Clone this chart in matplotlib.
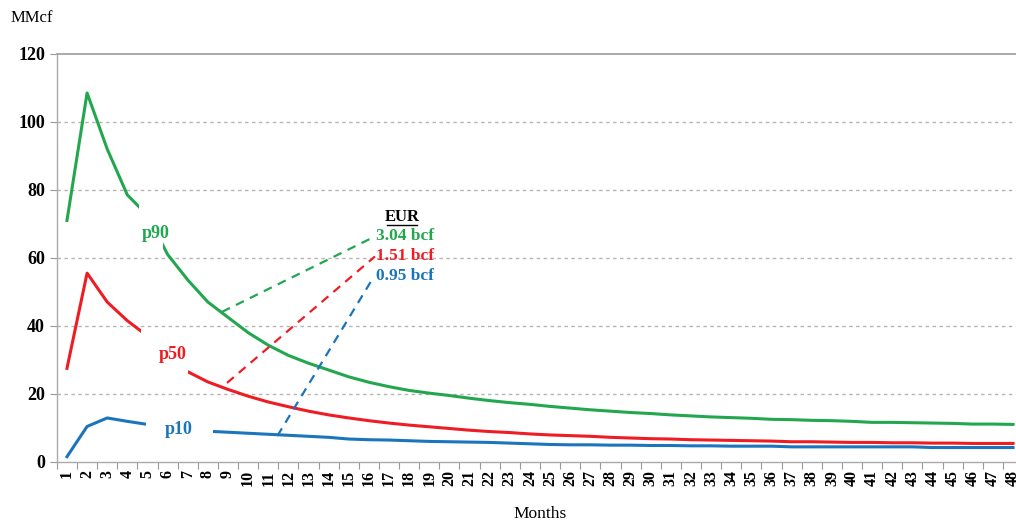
import numpy as np
import matplotlib
matplotlib.use("Agg")
import matplotlib.pyplot as plt
from matplotlib.patches import Rectangle

months = list(range(1, 49))

p90 = [71, 108.5, 92, 78.5, 72.5, 61, 53.5, 47, 42.5, 38, 34.3, 31.3, 29, 27, 25, 23.4,
       22.1, 21, 20.2, 19.5, 18.7, 18, 17.4, 16.9, 16.3, 15.8, 15.3, 14.9, 14.5, 14.2, 13.8, 13.5,
       13.2, 13, 12.8, 12.5, 12.4, 12.2, 12.1, 11.9, 11.6, 11.6, 11.5, 11.4, 11.3, 11.1, 11.1, 11.0]
p50 = [27.5, 55.5, 47, 41.5, 37, 31, 26.5, 23.5, 21.3, 19.3, 17.6, 16.2, 14.9, 13.8, 12.9, 12.1,
       11.4, 10.8, 10.3, 9.8, 9.3, 8.9, 8.6, 8.2, 7.9, 7.7, 7.5, 7.2, 7.0, 6.8, 6.7, 6.5,
       6.4, 6.3, 6.2, 6.1, 5.9, 5.9, 5.8, 5.7, 5.7, 5.6, 5.6, 5.5, 5.5, 5.4, 5.4, 5.4]
p10 = [1.5, 10.4, 12.9, 11.9, 11.0, 10.2, 9.5, 9.0, 8.7, 8.4, 8.1, 7.8, 7.5, 7.2, 6.7, 6.5,
       6.4, 6.2, 6.0, 5.9, 5.8, 5.7, 5.5, 5.3, 5.1, 5.0, 5.0, 4.9, 4.9, 4.8, 4.8, 4.7,
       4.7, 4.6, 4.6, 4.6, 4.4, 4.4, 4.4, 4.4, 4.4, 4.4, 4.4, 4.2, 4.2, 4.2, 4.2, 4.2]

eur = ["3.04 bcf", "1.51 bcf", "0.95 bcf"]

green = "#22a74f"
red = "#ee1d23"
blue = "#1b75bc"

plt.rcParams['font.family'] = ['Liberation Serif', 'DejaVu Serif']

fig = plt.figure(figsize=(10.16, 5.23), dpi=100)
ax = fig.add_axes([0.056, 0.117, 0.951, 0.780])

ax.plot(months, p90, color=green, lw=2.2, zorder=2)
ax.plot(months, p50, color=red, lw=2.2, zorder=2)
ax.plot(months, p10, color=blue, lw=2.2, zorder=2)

# white boxes behind the series labels (break the lines like the original)
ax.add_patch(Rectangle((4.6, 61.5), 1.15, 14, facecolor="white", edgecolor="none", zorder=3))
ax.add_patch(Rectangle((4.7, 25.3), 2.3, 14.2, facecolor="white", edgecolor="none", zorder=3))
ax.add_patch(Rectangle((4.95, 7.6), 3.3, 5.0, facecolor="white", edgecolor="none", zorder=3))

lab = dict(fontsize=13, fontweight="bold", ha="center", va="center", zorder=4)
ax.text(5.4, 67.3, "p90", color=green, **lab)
ax.text(6.25, 31.5, "p50", color=red, **lab)
ax.text(6.55, 9.4, "p10", color=blue, **lab)

# EUR annotation
ax.plot([8.7, 16.2], [44.1, 66.0], color=green, lw=1.6, ls=(0, (4, 3)), zorder=2)
ax.plot([8.95, 16.3], [23.2, 60.4], color=red, lw=1.6, ls=(0, (4, 3)), zorder=2)
ax.plot([11.45, 16.25], [7.6, 54.5], color=blue, lw=1.6, ls=(0, (4, 3)), zorder=2)
ax.text(17.65, 72.0, "EUR", fontsize=12, fontweight="bold", ha="center", va="center")
ax.plot([16.9, 18.4], [69.6, 69.6], color="black", lw=1)
ax.text(16.35, 66.3, eur[0], color=green, fontsize=12.5, fontweight="bold", ha="left", va="center")
ax.text(16.35, 60.5, eur[1], color=red, fontsize=12.5, fontweight="bold", ha="left", va="center")
ax.text(16.35, 54.6, eur[2], color=blue, fontsize=12.5, fontweight="bold", ha="left", va="center")

ax.set_xlim(0.5, 48.5)
ax.set_ylim(0, 120)
ax.set_yticks(range(0, 121, 20))
ax.set_xticks(months)
ax.set_xticklabels([str(m) for m in months], rotation=90, fontsize=11.5, fontweight="bold")
ax.set_xticks(np.arange(0.5, 49, 1), minor=True)
ax.tick_params(axis="x", which="major", length=0, pad=6)
ax.tick_params(axis="x", which="minor", length=5, color="#999999", width=0.8)
ax.tick_params(axis="y", length=5, color="#999999", width=0.8, labelsize=13)
for t in ax.get_yticklabels():
    t.set_fontweight("bold")

for y in range(20, 120, 20):
    ax.axhline(y, color="#b5b5b5", lw=1, ls=(0, (2.5, 2.5)), zorder=1)

for s in ["left", "bottom", "top"]:
    ax.spines[s].set_color("#aaaaaa")
    ax.spines[s].set_linewidth(1.0)
ax.spines["top"].set_linewidth(1.4)
ax.spines["right"].set_visible(False)

ax.set_xlabel("Months", fontsize=12.5, labelpad=14)
fig.text(0.01, 0.965, "MMcf", fontsize=12, ha="left", va="center")

fig.savefig("out.png", dpi=100)
